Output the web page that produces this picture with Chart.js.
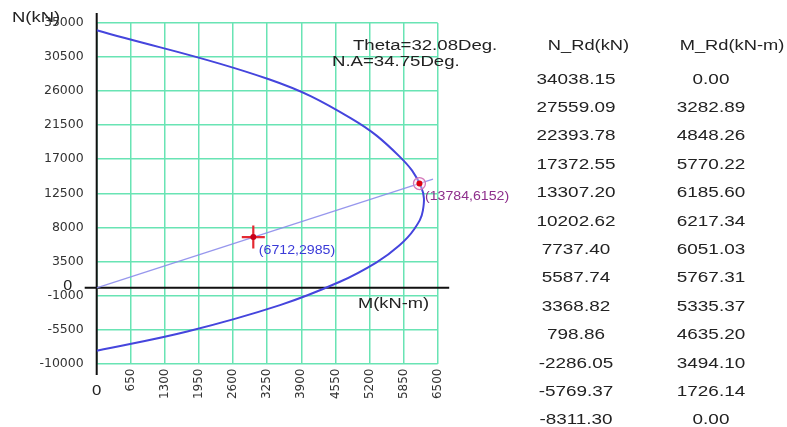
<!DOCTYPE html>
<html>
<head>
<meta charset="utf-8">
<script src="https://cdn.jsdelivr.net/npm/chart.js@4/dist/chart.umd.min.js"></script>
<style>
  html, body { margin: 0; padding: 0; background: #fff; overflow: hidden; }
  #wrap { width: 787px; height: 427px; position: relative; }
</style>
</head>
<body>
<div id="wrap"><canvas id="c" width="787" height="427"></canvas></div>
<script>
// Interaction curve: design axial force and moment pairs
const nRd = [34038.15, 27559.09, 22393.78, 17372.55, 13307.20, 10202.62, 7737.40,
             5587.74, 3368.82, 798.86, -2286.05, -5769.37, -8311.30];
const mRd = [0.00, 3282.89, 4848.26, 5770.22, 6185.60, 6217.34, 6051.03,
             5767.31, 5335.37, 4635.20, 3494.10, 1726.14, 0.00];

// Applied load and the matching capacity point on the same ray
const demandN = 6712, demandM = 2985;
const capacityN = 13784, capacityM = 6152;
const rayM = [0, 6410];
const rayN = [0, 14362];

// Axis ticks
const xTicks = [0, 650, 1300, 1950, 2600, 3250, 3900, 4550, 5200, 5850, 6500];
const yTicks = [-10000, -5500, -1000, 3500, 8000, 12500, 17000, 21500, 26000, 30500, 35000];

const thetaText = 'Theta=32.08Deg.';
const naText = 'N.A=34.75Deg.';
const tableHeaders = ['N_Rd(kN)', 'M_Rd(kN-m)'];

const FONT = '"Liberation Sans", Arial, sans-serif';
const GRID = 'rgb(105,228,180)';

function stretchText(ctx, s, x, cy, size, color, align, sx) {
  ctx.save();
  ctx.font = size + 'px ' + FONT;
  ctx.fillStyle = color;
  ctx.textAlign = 'left';
  ctx.textBaseline = 'alphabetic';
  const w = ctx.measureText(s).width * sx;
  const left = align === 'center' ? x - w / 2 : (align === 'right' ? x - w : x);
  ctx.translate(left, cy + 0.358 * size);
  ctx.scale(sx, 1);
  ctx.fillText(s, 0, 0);
  ctx.restore();
}

const axesPlugin = {
  id: 'axesLines',
  beforeDatasetsDraw(chart) {
    const ctx = chart.ctx, xs = chart.scales.x, ys = chart.scales.y;
    const x0 = xs.getPixelForValue(0), y0 = ys.getPixelForValue(0);
    ctx.save();
    ctx.strokeStyle = '#111';
    ctx.lineWidth = 2;
    ctx.beginPath();
    ctx.moveTo(x0, ys.top - 10);
    ctx.lineTo(x0, ys.bottom + 11.5);
    ctx.moveTo(xs.left - 12, y0);
    ctx.lineTo(xs.right + 11.5, y0);
    ctx.stroke();
    ctx.restore();
  },
  afterDraw(chart) {
    const ctx = chart.ctx, xs = chart.scales.x, ys = chart.scales.y;
    const x0 = xs.getPixelForValue(0), y0 = ys.getPixelForValue(0);

    // origin labels
    stretchText(ctx, '0', x0 - 29, y0 - 2.5, 14, '#222', 'center', 1.15);
    stretchText(ctx, '0', x0, ys.bottom + 26.5, 14, '#222', 'center', 1.2);

    // axis titles
    stretchText(ctx, 'N(kN)', 12, 16.5, 15, '#222', 'left', 1.23);
    stretchText(ctx, 'M(kN-m)', 358, y0 + 15, 15.5, '#222', 'left', 1.18);

    // angles
    stretchText(ctx, thetaText, 353, 44, 15.5, '#222', 'left', 1.2);
    stretchText(ctx, naText, 332, 60.5, 15.5, '#222', 'left', 1.2);

    // point labels
    const dx = xs.getPixelForValue(demandM), dy = ys.getPixelForValue(demandN);
    stretchText(ctx, '(' + demandN + ',' + demandM + ')', dx + 5.5, dy + 12.5, 12, '#3b3bd8', 'left', 1.18);
    const cx = xs.getPixelForValue(capacityM), cyy = ys.getPixelForValue(capacityN);
    stretchText(ctx, '(' + capacityN + ',' + capacityM + ')', cx + 5.5, cyy + 12.5, 12, '#8e2f8c', 'left', 1.18);

    // result table
    const colN = 576, colM = 711, headY = 44.5, rowY = 78, rowStep = 28.4;
    stretchText(ctx, tableHeaders[0], 588.5, headY, 15.5, '#222', 'center', 1.18);
    stretchText(ctx, tableHeaders[1], 732, headY, 15.5, '#222', 'center', 1.18);
    for (let i = 0; i < nRd.length; i++) {
      const y = rowY + i * rowStep;
      stretchText(ctx, nRd[i].toFixed(2), colN, y, 15.5, '#222', 'center', 1.22);
      stretchText(ctx, mRd[i].toFixed(2), colM, y, 15.5, '#222', 'center', 1.22);
    }
  }
};

const curve = mRd.map((m, i) => ({ x: m, y: nRd[i] }));
const ray = rayM.map((m, i) => ({ x: m, y: rayN[i] }));

new Chart(document.getElementById('c'), {
  type: 'scatter',
  data: {
    datasets: [
      // larger order values are drawn first (underneath)
      { order: 6, data: ray, showLine: true, borderColor: 'rgba(140,140,235,0.9)', borderWidth: 1.3,
        pointRadius: 0, fill: false },
      { order: 5, data: curve, showLine: true, borderColor: '#4545dd', borderWidth: 2, tension: 0.4,
        pointRadius: 0, fill: false },
      { order: 4, data: [{ x: demandM, y: demandN }], pointStyle: 'cross', pointRadius: 11.5,
        borderColor: '#e42a32', borderWidth: 2.2, backgroundColor: '#e42a32' },
      { order: 3, data: [{ x: demandM, y: demandN }], pointStyle: 'circle', pointRadius: 3,
        borderWidth: 0, backgroundColor: '#c8001a' },
      { order: 2, data: [{ x: capacityM, y: capacityN }], pointStyle: 'circle', pointRadius: 6,
        borderColor: 'rgb(212,120,185)', borderWidth: 1.3, backgroundColor: 'rgba(250,225,240,0.4)' },
      { order: 1, data: [{ x: capacityM, y: capacityN }], pointStyle: 'circle', pointRadius: 3,
        borderWidth: 0, backgroundColor: '#dd0010' }
    ]
  },
  options: {
    responsive: false,
    animation: false,
    devicePixelRatio: 1,
    layout: { padding: { left: 0, top: 23, right: 349.3, bottom: 0 } },
    plugins: { legend: { display: false }, tooltip: { enabled: false } },
    scales: {
      x: {
        type: 'linear', min: 0, max: 6500,
        afterBuildTicks(s) { s.ticks = xTicks.map(v => ({ value: v })); },
        afterFit(s) { s.height = 63.5; },
        grid: { color: GRID, lineWidth: 1.5, drawTicks: false },
        border: { display: false },
        ticks: {
          minRotation: 90, maxRotation: 90, padding: 5, autoSkip: false,
          color: '#333', font: { family: '"DejaVu Sans", sans-serif', size: 12 },
          callback: (v) => (v === 0 ? '' : String(v))
        }
      },
      y: {
        type: 'linear', min: -10000, max: 35000,
        afterBuildTicks(s) { s.ticks = yTicks.map(v => ({ value: v })); },
        afterFit(s) { s.width = 96.7; },
        grid: { color: GRID, lineWidth: 1.5, drawTicks: false },
        border: { display: false },
        ticks: {
          padding: 13, autoSkip: false,
          color: '#333', font: { family: '"DejaVu Sans", sans-serif', size: 12.5 },
          callback: (v) => String(v)
        }
      }
    }
  },
  plugins: [axesPlugin]
});
</script>
</body>
</html>
